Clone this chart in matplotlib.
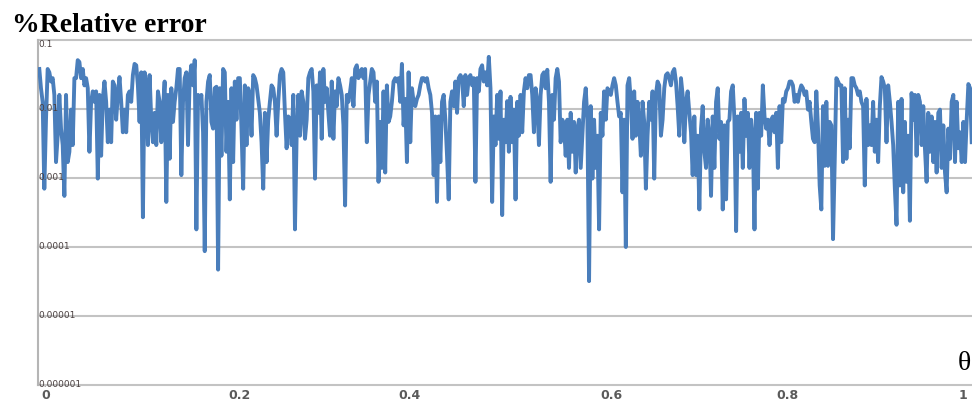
import numpy as np
import matplotlib
matplotlib.use("Agg")
import matplotlib.pyplot as plt

# relative error, left to right, in six stretches
err_a = [0.038, 0.020, 0.0127, 0.00070, 0.0070, 0.038, 0.034, 0.025, 0.028, 0.016,
         0.0017, 0.0041, 0.016, 0.0052, 0.0030, 0.00055, 0.016, 0.0017, 0.0024, 0.0098,
         0.0030, 0.028, 0.028, 0.051, 0.048, 0.028, 0.038, 0.022, 0.028, 0.020,
         0.0024, 0.0127, 0.018, 0.0127, 0.018, 0.00098, 0.016, 0.0021, 0.014, 0.025,
         0.0127, 0.0033, 0.0098, 0.0033, 0.025, 0.022, 0.0070, 0.016, 0.029, 0.0127,
         0.0046, 0.0098, 0.0046, 0.016, 0.018, 0.0127, 0.031, 0.045, 0.043, 0.022,
         0.0065, 0.034, 0.00027, 0.034, 0.022, 0.0030, 0.031, 0.0070, 0.0033, 0.0088,
         0.0030, 0.018, 0.0127, 0.0033, 0.0098, 0.025, 0.00045, 0.016, 0.0019, 0.020,
         0.0065, 0.0127, 0.020, 0.038, 0.038, 0.0011, 0.0127, 0.028, 0.034, 0.0030,
         0.028, 0.043, 0.022]
err_b = [0.051, 0.00018, 0.016, 0.0127, 0.016, 0.0046, 0.000087, 0.0127, 0.025, 0.031,
         0.0065, 0.0052, 0.020, 0.021, 0.000047, 0.020, 0.0021, 0.038, 0.034, 0.0024,
         0.0127, 0.00049, 0.020, 0.0017, 0.025, 0.0070, 0.028, 0.028, 0.0052, 0.00070,
         0.022, 0.0030, 0.020, 0.016, 0.0041, 0.031, 0.028, 0.022, 0.014, 0.0088,
         0.0033, 0.00070, 0.0088, 0.0017, 0.0070, 0.0127, 0.022, 0.020, 0.0127, 0.0041,
         0.0127, 0.031, 0.038, 0.034, 0.0088, 0.0027, 0.0078, 0.0070, 0.0030, 0.016,
         0.00018, 0.0041, 0.016, 0.0041, 0.018, 0.0127, 0.0037, 0.0070, 0.028, 0.034,
         0.038, 0.018, 0.00098, 0.022, 0.0088, 0.034, 0.0037, 0.038, 0.0127, 0.020,
         0.0088, 0.0041, 0.025, 0.0037, 0.018, 0.011, 0.028, 0.022, 0.016, 0.0058,
         0.00040, 0.016]
err_c = [0.0127, 0.018, 0.028, 0.011, 0.038, 0.043, 0.028, 0.034, 0.038, 0.028,
         0.038, 0.0033, 0.016, 0.025, 0.038, 0.034, 0.0127, 0.025, 0.00088, 0.0065,
         0.0014, 0.018, 0.0012, 0.022, 0.0065, 0.0078, 0.0127, 0.025, 0.028, 0.025,
         0.028, 0.0127, 0.045, 0.0058, 0.014, 0.0017, 0.034, 0.0033, 0.020, 0.0127,
         0.011, 0.014, 0.016, 0.022, 0.028, 0.028, 0.025, 0.028, 0.020, 0.016,
         0.0088, 0.0011, 0.0078, 0.00045, 0.0078, 0.0017, 0.0127, 0.016, 0.0070, 0.0021,
         0.00049, 0.0127, 0.018, 0.011, 0.025, 0.0088, 0.028, 0.031, 0.028, 0.011,
         0.031, 0.016, 0.028, 0.031, 0.022, 0.028, 0.00088, 0.028, 0.018, 0.038,
         0.043, 0.025, 0.034, 0.022, 0.057, 0.020, 0.00045, 0.0078, 0.0030, 0.016,
         0.0037, 0.018, 0.00029]
err_d = [0.0070, 0.0033, 0.013, 0.0024, 0.015, 0.0033, 0.0098, 0.00049, 0.0127, 0.0041,
         0.016, 0.0046, 0.018, 0.028, 0.020, 0.031, 0.031, 0.016, 0.0046, 0.020,
         0.0127, 0.0030, 0.016, 0.031, 0.034, 0.020, 0.037, 0.0127, 0.00088, 0.016,
         0.0070, 0.028, 0.038, 0.025, 0.0033, 0.0070, 0.0058, 0.0021, 0.0070, 0.0014,
         0.0088, 0.0024, 0.0065, 0.0012, 0.0052, 0.0070, 0.0014, 0.0041, 0.0127, 0.020,
         0.0070, 0.000032, 0.011, 0.00098, 0.0070, 0.0014, 0.0041, 0.00018, 0.0088, 0.0041,
         0.018, 0.0070, 0.020, 0.018, 0.016, 0.022, 0.028, 0.022, 0.0127, 0.0078,
         0.0088, 0.00062, 0.0070, 0.00010, 0.022, 0.028, 0.0127, 0.0037, 0.018, 0.0041,
         0.0127, 0.0065, 0.0021, 0.0127, 0.0065, 0.00070, 0.0041, 0.0127, 0.0070, 0.018,
         0.00098, 0.016, 0.025]
err_e = [0.022, 0.0041, 0.0070, 0.020, 0.031, 0.033, 0.028, 0.022, 0.034, 0.038,
         0.025, 0.011, 0.0041, 0.028, 0.016, 0.0033, 0.0127, 0.018, 0.0088, 0.0046,
         0.0011, 0.0078, 0.0011, 0.0041, 0.00035, 0.0052, 0.011, 0.0024, 0.0014, 0.0070,
         0.0041, 0.00055, 0.0078, 0.0014, 0.0127, 0.020, 0.0037, 0.0065, 0.00035, 0.0058,
         0.00049, 0.0065, 0.0070, 0.018, 0.022, 0.0070, 0.00017, 0.0078, 0.0024, 0.0088,
         0.0014, 0.014, 0.0041, 0.0088, 0.0014, 0.0070, 0.0041, 0.00018, 0.0088, 0.00070,
         0.0088, 0.0041, 0.022, 0.0078, 0.0052, 0.0070, 0.0030, 0.0070, 0.0078, 0.0046,
         0.0088, 0.0014, 0.011, 0.0033, 0.014, 0.0127, 0.018, 0.020, 0.025, 0.025,
         0.022, 0.0127, 0.016, 0.0127, 0.018, 0.022, 0.020, 0.016, 0.018, 0.0098,
         0.0127, 0.0065, 0.0037]
err_f = [0.0033, 0.018, 0.0052, 0.00078, 0.00035, 0.011, 0.0015, 0.0127, 0.0015, 0.0065,
         0.0058, 0.00013, 0.0017, 0.028, 0.025, 0.022, 0.022, 0.0017, 0.020, 0.0019,
         0.0070, 0.0027, 0.028, 0.028, 0.022, 0.020, 0.016, 0.018, 0.0127, 0.011,
         0.00078, 0.014, 0.0030, 0.0058, 0.0030, 0.0127, 0.0024, 0.0070, 0.0017, 0.011,
         0.029, 0.025, 0.020, 0.0033, 0.022, 0.0127, 0.0065, 0.0030, 0.00070, 0.00021,
         0.0127, 0.00078, 0.014, 0.00062, 0.0065, 0.00088, 0.0041, 0.00024, 0.017, 0.0070,
         0.016, 0.0021, 0.016, 0.0127, 0.0030, 0.011, 0.0027, 0.00088, 0.0088, 0.0024,
         0.0078, 0.0017, 0.0065, 0.0012, 0.0088, 0.0098, 0.0014, 0.0058, 0.0012, 0.00062,
         0.0052, 0.0019, 0.0127, 0.016, 0.0017, 0.0127, 0.0027, 0.0046, 0.0017, 0.0065,
         0.0017, 0.0070, 0.023, 0.020, 0.0033]

y_ticks = [1e-1, 1e-2, 1e-3, 1e-4, 1e-5, 1e-6]
y_tick_labels = ["0.1", "0.01", "0.001", "0.0001", "0.00001", "0.000001"]
# category-axis labels sit a little unevenly in the original
x_tick_pos = [0.007, 0.215, 0.397, 0.614, 0.802, 0.991]
x_tick_labels = ["0", "0.2", "0.4", "0.6", "0.8", "1"]

rel_err = np.concatenate([err_a, err_b, err_c, err_d, err_e, err_f])
theta = np.linspace(0, 1, len(rel_err))

fig = plt.figure(figsize=(9.72, 4.03), dpi=100)
ax = fig.add_axes([38 / 972, 1 - 385 / 403, 934 / 972, 345 / 403])

for v in y_ticks:
    ax.axhline(v, color="#c3c3c3", lw=1.5, clip_on=False, zorder=1)
ax.plot(theta, rel_err, color="#4a7ebb", lw=2.8, solid_joinstyle="round", zorder=3)

ax.set_yscale("log")
ax.set_ylim(1e-6, 1e-1)
ax.set_xlim(-0.0014, 1.0003)

for s in ["top", "right", "bottom"]:
    ax.spines[s].set_visible(False)
ax.spines["left"].set_color("#b5b5b5")
ax.spines["left"].set_linewidth(1.5)

ax.set_yticks([])
ax.minorticks_off()
# top label hangs just under its gridline, the rest sit on theirs
for v, lab in zip(y_ticks, y_tick_labels):
    ax.text(0.0, v, lab, transform=ax.get_yaxis_transform(), fontsize=6.5,
            color="#4a4040", ha="left", va="top" if v == 1e-1 else "center",
            zorder=4)

ax.set_xticks(x_tick_pos)
ax.set_xticklabels(x_tick_labels, fontsize=9, fontweight="bold", color="#5a5a5a")
ax.tick_params(axis="x", length=0, pad=3)

fig.text(12 / 972, 1 - 32 / 403, "%Relative error", family="Liberation Serif",
         fontweight="bold", fontsize=20, va="baseline", ha="left")
fig.text(964 / 972, 1 - 364 / 403, "θ", family="Liberation Serif",
         fontsize=20, va="center", ha="center")

fig.savefig("out.png", dpi=100)
